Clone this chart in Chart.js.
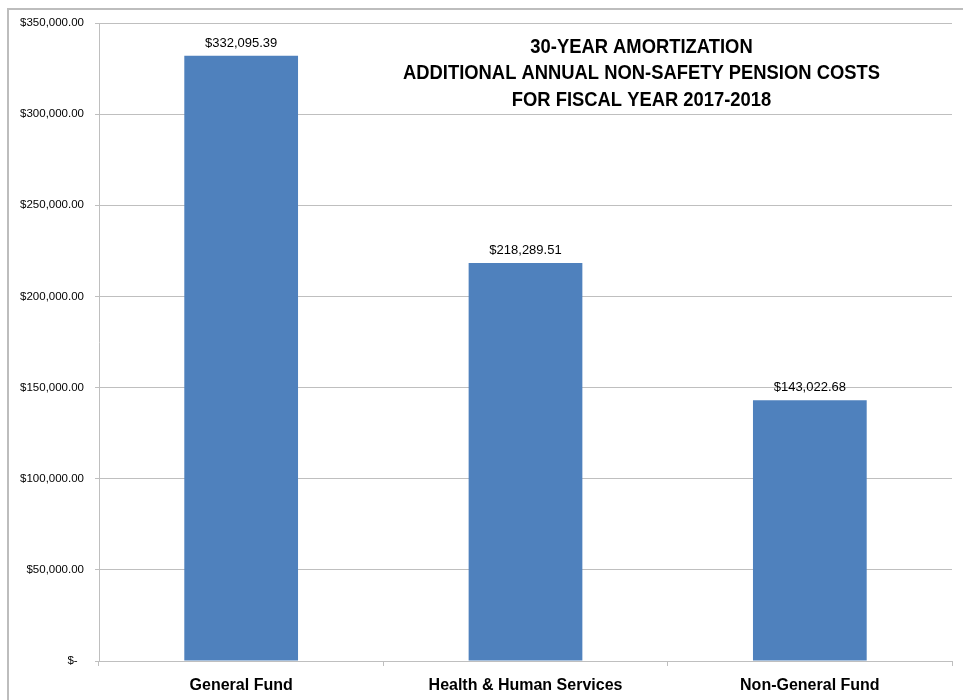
<!DOCTYPE html>
<html>
<head>
<meta charset="utf-8">
<script src="https://cdn.jsdelivr.net/npm/chart.js@4/dist/chart.umd.min.js"></script>
<style>
  html, body { margin: 0; padding: 0; background: #fff; }
  #wrap { position: relative; width: 963px; height: 700px; overflow: hidden; }
  #frame { position: absolute; left: 7px; top: 8px; right: -10px; bottom: -10px;
           border-left: 2px solid #bdbdbd; border-top: 2px solid #bdbdbd; }
  canvas { position: absolute; left: 0; top: 0; }
</style>
</head>
<body>
<div id="wrap">
  <div id="frame"></div>
  <canvas id="c" width="963" height="700"></canvas>
</div>
<script>
const categories = ["General Fund", "Health & Human Services", "Non-General Fund"];
const costs = [332095.39, 218289.51, 143022.68];
const titleLines = ["30-YEAR AMORTIZATION", "ADDITIONAL ANNUAL NON-SAFETY PENSION COSTS", "FOR FISCAL YEAR 2017-2018"];
const yMin = 0, yMax = 350000, yStep = 50000;

function money(v) {
  if (v === 0) return "$-  ";
  return "$" + v.toLocaleString("en-US", { minimumFractionDigits: 2, maximumFractionDigits: 2 });
}

const overlay = {
  id: "overlay",
  afterDatasetsDraw(chart) {
    const ctx = chart.ctx;
    const meta = chart.getDatasetMeta(0);
    ctx.save();
    ctx.fillStyle = "#000";
    ctx.font = "13px 'Liberation Sans', Arial, sans-serif";
    ctx.textAlign = "center";
    ctx.textBaseline = "alphabetic";
    meta.data.forEach((bar, i) => {
      ctx.fillText(money(costs[i]), bar.x, bar.y - 9);
    });
    ctx.font = "bold 20px 'Liberation Sans', Arial, sans-serif";
    ctx.textBaseline = "middle";
    const sx = 477 / ctx.measureText(titleLines[1]).width;
    const cx = 641.5;
    titleLines.forEach((t, i) => {
      ctx.save();
      ctx.translate(cx, 47 + i * 26.5);
      ctx.scale(sx, 1);
      ctx.fillText(t, 0, 0);
      ctx.restore();
    });
    ctx.restore();
  }
};

new Chart(document.getElementById("c"), {
  type: "bar",
  data: {
    labels: categories,
    datasets: [{
      data: costs,
      backgroundColor: "#4f81bd",
      borderWidth: 0,
      categoryPercentage: 1.0,
      barPercentage: 0.4
    }]
  },
  options: {
    responsive: false,
    animation: false,
    devicePixelRatio: 1,
    layout: { padding: { top: 23, right: 11, bottom: 0, left: 0 } },
    plugins: { legend: { display: false }, tooltip: { enabled: false }, title: { display: false } },
    scales: {
      x: {
        offset: true,
        afterFit(scale) { scale.height = 39; },
        grid: { offset: true, drawOnChartArea: false, drawTicks: true, tickLength: 5, color: "#bfbfbf" },
        border: { display: true, color: "#bfbfbf", width: 1 },
        ticks: {
          color: "#000",
          padding: 10,
          font: { family: "'Liberation Sans', Arial, sans-serif", size: 16, weight: "bold" }
        }
      },
      y: {
        min: yMin, max: yMax,
        afterFit(scale) { scale.width = 99; },
        grid: { color: "#bfbfbf", tickLength: 4, drawTicks: true },
        border: { display: true, color: "#bfbfbf", width: 1 },
        ticks: {
          stepSize: yStep,
          color: "#000",
          padding: 11,
          font: { family: "'Liberation Sans', Arial, sans-serif", size: 11.5 },
          callback: (v) => money(v)
        }
      }
    }
  },
  plugins: [overlay]
});
</script>
</body>
</html>
